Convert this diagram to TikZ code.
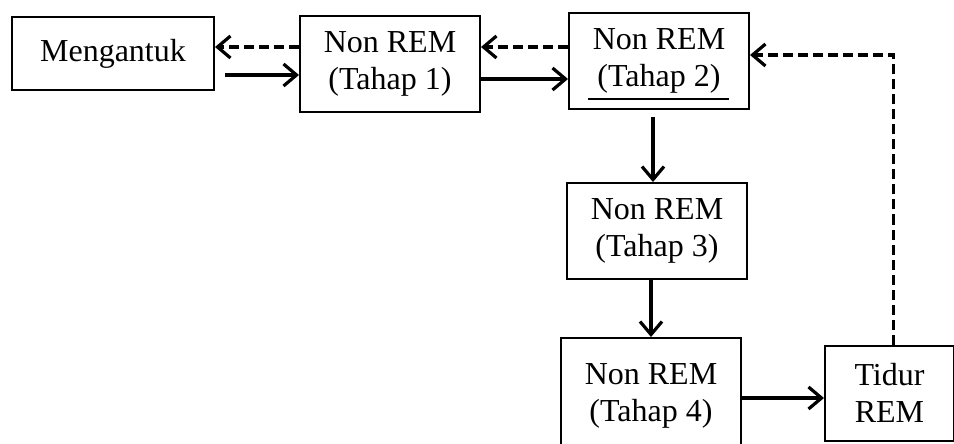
\documentclass[tikz,border=0pt]{standalone}
\usepackage{fontspec}
\setmainfont{Liberation Serif}
\usetikzlibrary{arrows.meta,positioning,calc}

\begin{document}
\begin{tikzpicture}[
  font=\fontsize{16}{18.5}\selectfont,
  stage/.style={draw, line width=1pt, minimum width=90pt, minimum height=48pt, align=center, inner sep=2pt},
  arr/.style={-{Straight Barb[length=6.5pt,width=11pt]}, line width=1.6pt},
  back/.style={arr, dash pattern=on 5pt off 2.5pt}
]
\useasboundingbox (0,0) rectangle (477pt,-222pt);
\node[stage, minimum width=101pt, minimum height=36.5pt] (ment) at (56.5pt,-27pt) {Mengantuk};
\node[stage, right=42pt of ment, yshift=-5pt] (t1) {Non REM\\(Tahap 1)};
\node[stage, right=43.5pt of t1, yshift=1.5pt] (t2) {Non REM\\(Tahap 2)};
\node[stage, below=36pt of t2, xshift=-1pt] (t3) {Non REM\\(Tahap 3)};
\node[stage, below=28.5pt of t3, xshift=-3pt, minimum height=58pt] (t4) {Non REM\\(Tahap 4)};
\node[stage, right=41pt of t4, yshift=1.5pt, minimum width=64.5pt, minimum height=47.5pt] (tidur) {Tidur\\REM};
% garis di bawah tahap 2
\draw[line width=0.6pt] ($(t2.south west)+(10pt,5.5pt)$) -- ($(t2.south east)+(-10.5pt,5.5pt)$);
% panah maju
\draw[arr, shorten <=5pt] ([yshift=-5.5pt]t1.west -| ment.east) -- ([yshift=-5.5pt]t1.west);
\draw[arr] ([yshift=-7.5pt]t1.east) -- ([yshift=-7.5pt]t1.east -| t2.west);
\draw[arr, shorten <=3.5pt] ([xshift=-3pt]t2.south) -- ([xshift=-3pt]t2.south |- t3.north);
\draw[arr] (t4.north |- t3.south) -- (t4.north);
\draw[arr] ([yshift=-1pt]t4.east) -- ([yshift=-1pt]t4.east -| tidur.west);
% panah balik
\draw[back] ([yshift=8.5pt]t1.west) -- ([yshift=8.5pt]t1.west -| ment.east);
\draw[back] ([yshift=7pt]t2.west) -- ([yshift=7pt]t2.west -| t1.east);
\draw[back] ([xshift=2pt]tidur.north) |- ([yshift=3pt]t2.east);
\end{tikzpicture}
\end{document}
